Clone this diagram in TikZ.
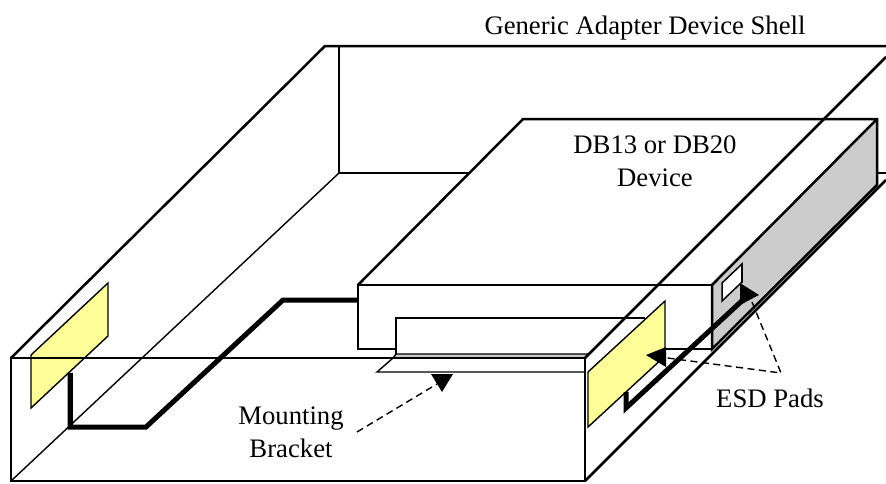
\documentclass[tikz,border=0pt]{standalone}
\usepackage{fontspec}
\setmainfont{Liberation Serif}
\definecolor{padyellow}{RGB}{255,255,153}
\definecolor{facegrey}{RGB}{204,204,204}
\tikzset{
  thick line/.style={draw=black,line width=2.5pt,line join=miter},
  thin line/.style={draw=black,line width=1.4pt},
  wire/.style={draw=black,line width=5pt,line join=miter},
  pad/.style={fill=padyellow,draw=black,line width=1.4pt},
  leader/.style={draw=black,line width=1.4pt,dash pattern=on 7pt off 4.5pt},
  tip/.style={fill=black,draw=none},
  label/.style={font=\fontsize{26.7}{33}\selectfont,align=center,inner sep=0pt}
}
\begin{document}
\begin{tikzpicture}[x=1pt,y=-1pt]
\useasboundingbox (0,0) rectangle (886,483);
\clip (0,0) rectangle (886,483);
% shell rear
\draw[thin line] (339,46) -- (339,173) -- (886,173);
\draw[thin line] (339,173) -- (11,481);
\draw[thick line] (11,358) -- (325,46) -- (886,46);
% wire left
\draw[wire] (70,373) -- (70,427) -- (146,427) -- (283,300) -- (358,300);
% device
\fill[white] (358,349) -- (358,285) -- (523,119) -- (877,119) -- (877,185) -- (712,349) -- cycle;
\fill[facegrey] (712,285) -- (877,119) -- (877,185) -- (712,349) -- cycle;
\draw[thick line] (358,285) -- (523,119) -- (877,119) -- (877,185) -- (712,349) -- (712,285) -- (877,119);
\draw[thick line] (396,349) -- (358,349) -- (358,285) -- (712,285);
\draw[thick line] (660,349) -- (712,349);
% bracket
\draw[thin line,line width=1.8pt] (396,354) -- (396,318) -- (645,318);
\draw[thin line,fill=facegrey] (396,354) -- (589,354) -- (585,358) -- (393,358) -- cycle;
\draw[thin line,fill=white] (393,358) -- (377,372) -- (585,372);
% small pad
\draw[thin line,line width=1.5pt,fill=white] (722,283) -- (742,264) -- (742,282) -- (722,301) -- cycle;
% shell front
\draw[thin line,line width=1.8pt] (11,358) -- (585,358);
\draw[thick line] (11,358) rectangle (585,481);
\draw[thick line] (585,358) -- (886,57);
\draw[thick line] (585,481) -- (886,180);
% yellow pads
\draw[pad] (31,355) -- (108,283) -- (108,336) -- (31,408) -- cycle;
\draw[thin line,line width=1.8pt] (11,358) -- (200,358);
\draw[wire] (70,373) -- (70,427);
\draw[pad] (588,372) -- (665,301) -- (665,356) -- (588,427) -- cycle;
% wire right
\draw[wire] (626,392) -- (626,408) -- (745,298);
% labels
\node[label] (shell) at (645,28) {Generic Adapter Device Shell};
\node[label] (device) at (655,161) {DB13 or DB20\\Device};
\node[label] (bracket) at (291,432) {Mounting\\Bracket};
\node[label] (esd) at (770,398) {ESD Pads};
% leaders
\coordinate (apex) at (781,373);
\coordinate (padA) at (752,302);
\coordinate (padB) at (660,357);
\coordinate (brkStart) at (357,432);
\coordinate (brkEnd) at (437,384);
\draw[leader] (padA) -- (apex) -- (padB);
\draw[leader] (brkStart) -- (brkEnd);
\fill[tip] (740,283) -- (759,295) -- (740,305) -- cycle;
\draw[thin line] (742,264) -- (742,283);
\fill[tip] (646,355) -- (666,347) -- (666,367) -- cycle;
\fill[tip] (431,374) -- (453,374) -- (442,392) -- cycle;
\end{tikzpicture}
\end{document}
